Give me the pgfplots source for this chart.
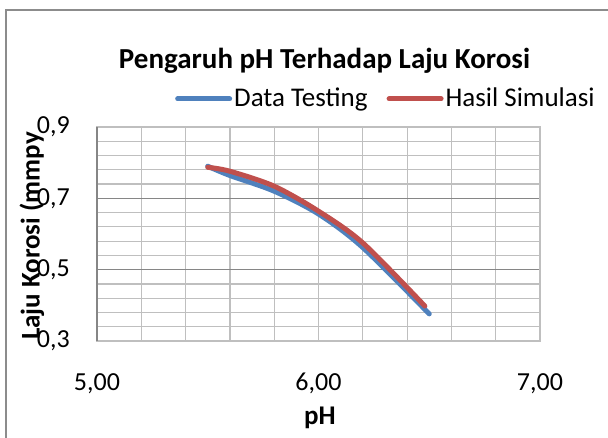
\documentclass[border=0pt]{standalone}
\usepackage{pgfplots}
\pgfplotsset{compat=1.18}
\usepackage{fontspec}
\setmainfont{Carlito}
\definecolor{xlblue}{HTML}{4F81BD}
\definecolor{xlred}{HTML}{C0504D}
\definecolor{gridlight}{HTML}{BFBFBF}
\definecolor{griddark}{HTML}{868686}
\definecolor{framegray}{HTML}{8C8C8C}
\begin{document}
\fontsize{26}{30}\selectfont
\begin{tikzpicture}[x=1pt,y=1pt]
\useasboundingbox (0,0) rectangle (608,438);
\draw[framegray, line width=1.5pt] (6,-2) -- (6,428) -- (612,428);
\begin{axis}[
  at={(97pt,97pt)}, anchor=south west,
  scale only axis, width=443pt, height=214pt,
  xmin=5, xmax=7, ymin=0.3, ymax=0.9,
  xtick={5,6,7},
  minor xtick={5.2,5.4,5.6,5.8,6.2,6.4,6.6,6.8},
  ytick={0.3,0.5,0.7,0.9},
  minor ytick={0.34,0.38,0.42,0.46,0.54,0.58,0.62,0.66,0.74,0.78,0.82,0.86},
  extra x ticks={5}, extra x tick labels={},
  extra x tick style={major x grid style={griddark, line width=1.2pt}},
  xmajorgrids, xminorgrids, ymajorgrids, yminorgrids,
  major x grid style={gridlight, line width=1.2pt},
  minor x grid style={gridlight, line width=1.2pt},
  major y grid style={griddark, line width=1.2pt},
  minor y grid style={gridlight, line width=1.2pt},
  axis line style={gridlight, line width=1.2pt},
  major tick length=0pt, minor tick length=0pt,
  /pgf/number format/assume math mode=true,
  x tick label style={/pgf/number format/.cd, fixed, fixed zerofill, precision=2, use comma, 1000 sep={}, /tikz/.cd, anchor=base, inner sep=0pt, yshift=-50pt},
  y tick label style={/pgf/number format/.cd, fixed, fixed zerofill, precision=1, use comma, 1000 sep={}, /tikz/.cd, anchor=east, inner sep=0pt, xshift=-27pt},
  legend columns=2,
  legend style={draw=none, fill=none, at={(0.176,1.131)}, anchor=west, inner sep=0pt,
    font=\fontsize{27}{30}\selectfont,
    nodes={inner sep=2pt, anchor=west},
    /tikz/every even column/.append style={column sep=17pt}},
  legend image code/.code={\draw[#1, line cap=round] (0pt,0pt) -- (52pt,0pt);},
]
\addplot[xlblue, line width=5pt, smooth, line cap=round] coordinates {
(5.5,0.790) (5.6,0.764) (5.8,0.720) (6.0,0.656) (6.2,0.562) (6.5,0.376)};
\addlegendentry{Data Testing}
\addplot[xlred, line width=5pt, smooth, line cap=round] coordinates {
(5.5,0.787) (5.6,0.776) (5.8,0.734) (6.0,0.664) (6.2,0.575) (6.48,0.398)};
\addlegendentry{Hasil Simulasi}
\end{axis}
\node[font=\fontsize{29}{32}\selectfont\bfseries, anchor=base] at (324.5,369) {Pengaruh pH Terhadap Laju Korosi};
\node[font=\fontsize{27}{30}\selectfont\bfseries] at (320,20) {pH};
\node[font=\fontsize{27}{30}\selectfont\bfseries, rotate=90] at (32,202) {Laju Korosi (mmpy};
\end{tikzpicture}
\end{document}
